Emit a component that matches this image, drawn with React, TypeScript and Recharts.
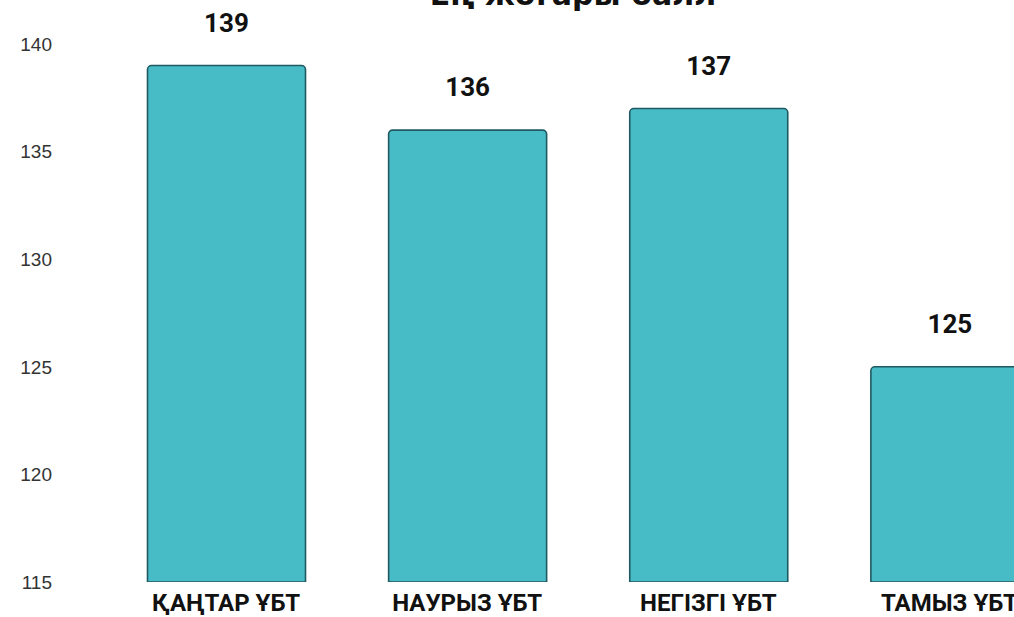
import { Bar, BarChart, LabelList, XAxis, YAxis } from "recharts";

const categories = ["ҚАҢТАР ҰБТ", "НАУРЫЗ ҰБТ", "НЕГІЗГІ ҰБТ", "ТАМЫЗ ҰБТ"];
const maxScores = [139, 136, 137, 125];
const yTicks = [115, 120, 125, 130, 135, 140];

const data = categories.map((name, i) => ({ name, score: maxScores[i] }));

const FILL = "#48bcc6";
const STROKE = "#1f5961";

export default function App() {
  return (
    <div
      style={{
        position: "absolute",
        left: 0,
        top: 0,
        width: 1014,
        height: 617,
        overflow: "hidden",
        background: "#fff",
      }}
    >
      {/* title sits mostly above the visible frame, as in the source */}
      <div
        style={{
          position: "absolute",
          left: 373,
          top: -20,
          width: 400,
          textAlign: "center",
          fontFamily: "'DejaVu Sans', sans-serif",
          fontWeight: 700,
          fontSize: 30,
          lineHeight: "30px",
          color: "#111",
        }}
      >
        Ең жоғары балл
      </div>
      <div style={{ position: "absolute", left: 0, top: 0 }}>
        <BarChart
          width={1070}
          height={640}
          data={data}
          margin={{ top: 44, right: 0, left: 0, bottom: 28 }}
        >
          <XAxis
            dataKey="name"
            axisLine={false}
            tickLine={false}
            tickMargin={6}
            padding={{ left: 45.5, right: 0 }}
            interval={0}
            tick={{
              fill: "#111",
              fontSize: 24,
              fontWeight: 700,
              fontFamily: "Roboto, sans-serif",
            }}
          />
          <YAxis
            domain={[115, 140]}
            ticks={yTicks}
            width={60}
            axisLine={false}
            tickLine={false}
            allowDataOverflow
            tick={{
              fill: "#333",
              fontSize: 19,
              fontFamily: "'Liberation Sans', Arial, sans-serif",
            }}
          />
          <Bar
            dataKey="score"
            fill={FILL}
            stroke={STROKE}
            strokeWidth={1.6}
            barSize={158}
            radius={[4, 4, 0, 0]}
            isAnimationActive={false}
          >
            <LabelList
              dataKey="score"
              position="top"
              offset={34}
              fill="#111"
              fontSize={26}
              fontWeight={700}
              fontFamily="Roboto, sans-serif"
            />
          </Bar>
        </BarChart>
      </div>
    </div>
  );
}
